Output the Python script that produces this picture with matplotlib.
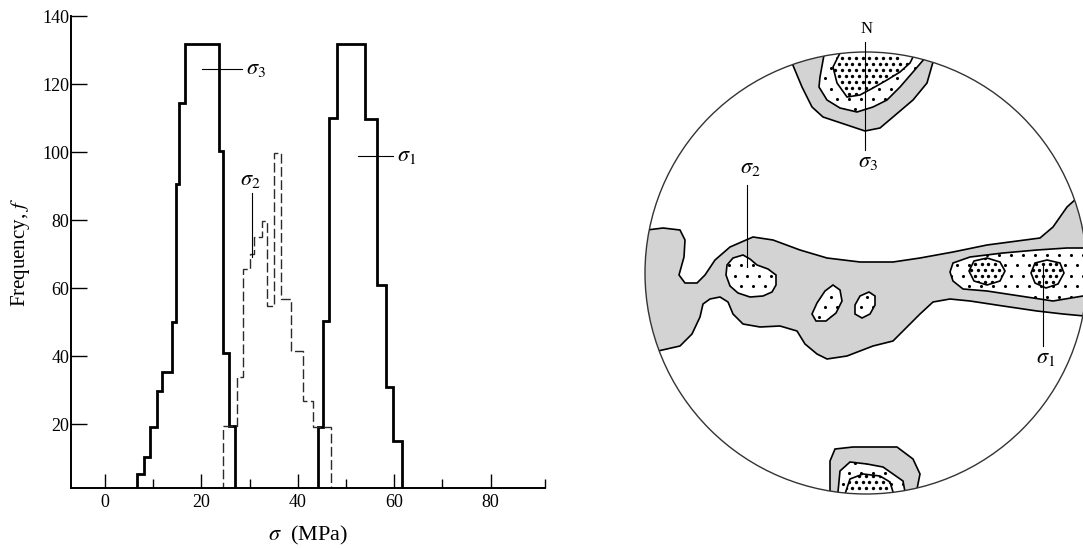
import numpy as np
import matplotlib
matplotlib.use("Agg")
import matplotlib.pyplot as plt
from matplotlib.patches import Polygon, Circle

plt.rcParams['font.family'] = ['Liberation Serif', 'DejaVu Serif']
plt.rcParams['mathtext.fontset'] = 'stix'

# ---------------- histogram data (sigma in MPa, frequency f) ----------------
s3_edges = [6.7, 8.1, 9.3, 10.7, 11.9, 14.0, 14.7, 15.4, 16.6, 23.7, 24.5, 25.7, 27.0]
s3_freq = [5.3, 10.4, 19.2, 29.6, 35.2, 50.1, 90.6, 114.5, 131.8, 100.4, 41.0, 19.5]

s2_edges = [24.5, 27.3, 28.7, 30.1, 31.0, 32.5, 33.7, 35.1, 36.5, 38.6, 41.0, 43.2, 46.9]
s2_freq = [19.4, 33.8, 65.6, 70.0, 75.1, 79.8, 54.7, 99.8, 56.7, 41.6, 26.8, 19.2]

s1_edges = [44.1, 45.3, 46.5, 48.2, 53.9, 56.4, 58.4, 59.8, 61.7]
s1_freq = [19.2, 50.4, 110.0, 131.9, 109.7, 60.8, 30.8, 15.1]

xticks_major = [0, 20, 40, 60, 80]
xticks_minor = [10, 30, 50, 70]
yticks = [20, 40, 60, 80, 100, 120, 140]

# ---------------- stereonet contours (net units, circle radius = NET_R) ----------------
NET_R = 221.0
top_gray = [(-76, 232), (-74, 210), (-64, 186), (-54, 166), (-43, 156), (-19, 148), (-1, 142),
            (14, 145), (27, 156), (47, 173), (61, 190), (67, 211), (70, 232)]
top_dot = [(-42, 235), (-42, 218), (-46, 196), (-47, 186), (-39, 173), (-26, 165), (-9, 161),
           (7, 166), (21, 173), (34, 186), (47, 201), (59, 215), (59, 235)]
top_dense = [(-26, 235), (-26, 220), (-33, 206), (-29, 190), (-19, 176), (-6, 178), (7, 185),
             (21, 193), (34, 201), (44, 210), (47, 216), (47, 235)]
mid_gray = [(-240, 57), (-219, 43), (-203, 45), (-186, 43), (-181, 33), (-182, 16), (-187, -2),
            (-181, -10), (-169, -10), (-161, -2), (-151, 13), (-136, 26), (-113, 36), (-93, 33),
            (-66, 23), (-39, 15), (-6, 11), (27, 11), (54, 15), (87, 21), (121, 28), (174, 35),
            (187, 46), (201, 66), (211, 75), (240, 80), (240, -45), (197, -41), (171, -38),
            (137, -33), (104, -28), (84, -26), (67, -29), (54, -41), (41, -54), (27, -68),
            (7, -73), (-19, -83), (-39, -86), (-49, -81), (-61, -71), (-69, -58), (-86, -53),
            (-106, -54), (-123, -51), (-133, -41), (-138, -29), (-146, -24), (-156, -26),
            (-163, -31), (-166, -44), (-174, -61), (-186, -73), (-208, -78), (-240, -80)]
sig2_dot = [(-139, 8), (-133, 15), (-123, 18), (-116, 14), (-109, 8), (-98, 4), (-90, -2),
            (-90, -12), (-94, -19), (-103, -23), (-116, -24), (-128, -20), (-136, -13), (-140, -2)]
blob_a = [(-33, -12), (-26, -17), (-24, -28), (-30, -40), (-40, -48), (-50, -48), (-54, -41),
          (-49, -30), (-41, -18)]
blob_b = [(3, -19), (9, -23), (9, -32), (4, -41), (-4, -45), (-11, -41), (-11, -32), (-6, -23)]
right_dot = [(84, 1), (87, 10), (104, 16), (137, 20), (171, 23), (201, 25), (240, 25), (240, -23),
             (217, -23), (187, -28), (154, -23), (121, -18), (97, -16), (87, -8)]
right_dense_a = [(103, 2), (108, 12), (121, 15), (134, 11), (139, 2), (134, -8), (121, -12), (108, -8)]
right_dense_b = [(165, 0), (169, 10), (181, 13), (194, 10), (198, 0), (192, -11), (180, -15), (169, -10)]
bot_gray = [(-36, -240), (-36, -188), (-31, -176), (-13, -174), (14, -174), (31, -174),
            (47, -186), (54, -201), (51, -216), (51, -240)]
bot_dot = [(-28, -240), (-28, -219), (-26, -198), (-16, -189), (1, -191), (17, -194),
           (27, -201), (37, -208), (39, -219), (39, -240)]
bot_dense = [(-21, -240), (-21, -221), (-16, -206), (-3, -201), (14, -203), (24, -209),
             (27, -219), (27, -240)]

# ---------------- figure ----------------
W, H = 1083, 548
fig = plt.figure(figsize=(W / 100, H / 100), dpi=100)
fig.patch.set_facecolor('white')

ax = fig.add_axes([71 / W, 60 / H, 474 / W, 472 / H])
ax.stairs(s3_freq, s3_edges, color='black', lw=2.0)
ax.stairs(s1_freq, s1_edges, color='black', lw=2.0)
ax.stairs(s2_freq, s2_edges, color='#2a2a2a', lw=1.0, linestyle=(0, (7, 2.5)))
ax.set_xlim(-7.05, 91.3)
ax.set_ylim(1.2, 140)
ax.set_xticks(xticks_major)
ax.set_xticks(xticks_minor + [91.2], minor=True)
ax.set_yticks(yticks)
ax.tick_params(axis='x', which='major', direction='in', length=10, width=1.0, labelsize=13, pad=4)
ax.tick_params(axis='x', which='minor', direction='in', length=6.5, width=1.0)
ax.tick_params(axis='y', direction='in', length=11.5, width=1.0, labelsize=13, pad=1)
for s in ['top', 'right']:
    ax.spines[s].set_visible(False)
for s in ['left', 'bottom']:
    ax.spines[s].set_linewidth(1.4)
ax.set_xlabel(r'$\sigma$  (MPa)', fontsize=16)
ax.xaxis.set_label_coords(0.5, -0.1)
ax.xaxis.label.set_va('center')
ax.set_ylabel(r'Frequency, $f$', fontsize=15)
ax.yaxis.set_label_coords(-0.082, 0.5)

ax.plot([20.1, 28.4], [124.4, 124.4], color='black', lw=0.8)
ax.text(29.3, 124.2, r'$\sigma_3$', fontsize=16, va='center', ha='left')
ax.plot([52.6, 59.8], [98.9, 98.9], color='black', lw=0.8)
ax.text(60.6, 98.7, r'$\sigma_1$', fontsize=16, va='center', ha='left')
ax.plot([30.6, 30.6], [88, 69], color='black', lw=0.8)
ax.text(30.2, 91.5, r'$\sigma_2$', fontsize=16, va='center', ha='center')

# ---------------- stereonet ----------------
cx, cy = 866, 273
ax2 = fig.add_axes([620 / W, 0, 463 / W, 1])
ax2.set_xlim((620 - cx) / NET_R, (W - cx) / NET_R)
ax2.set_ylim((cy - H) / NET_R, cy / NET_R)
ax2.set_aspect('auto')
ax2.axis('off')

circ_clip = Circle((0, 0), 1.0, transform=ax2.transData)


def norm(pts):
    return [(x / NET_R, y / NET_R) for x, y in pts]


def dot_grid(spacing):
    pts = []
    ys = np.arange(-NET_R, NET_R, spacing * 0.866)
    for i, y in enumerate(ys):
        off = spacing / 2 if i % 2 else 0.0
        for x in np.arange(-NET_R + off, NET_R, spacing):
            if x * x + y * y < (NET_R - 3) ** 2:
                pts.append((x, y))
    pts = np.array(pts) / NET_R
    return pts[:, 0], pts[:, 1]


sparse_x, sparse_y = dot_grid(12.0)
dense_x, dense_y = dot_grid(6.8)


def region(pts, face, z, dots=None, s=4.0):
    p = Polygon(norm(pts), closed=True, fc=face, ec='black', lw=1.2, zorder=z)
    ax2.add_patch(p)
    p.set_clip_path(circ_clip)
    if dots is not None:
        sc = ax2.scatter(dots[0], dots[1], s=s, c='black', lw=0, zorder=z + 0.1)
        sc.set_clip_path(p)


gray = '#d3d3d3'
region(mid_gray, gray, 1)
region(top_gray, gray, 1)
region(bot_gray, gray, 1)
for shp in [top_dot, sig2_dot, blob_a, blob_b, right_dot, bot_dot]:
    region(shp, 'white', 2, (sparse_x, sparse_y), 5.0)
for shp in [top_dense, right_dense_a, right_dense_b, bot_dense]:
    region(shp, 'white', 3, (dense_x, dense_y), 6.0)

ax2.add_patch(Circle((0, 0), 1.0, fc='none', ec='#333333', lw=1.0, zorder=5))

# labels and pointers
ax2.plot([-1 / NET_R, -1 / NET_R], [231 / NET_R, 123 / NET_R], color='black', lw=0.8, zorder=6)
ax2.text(1 / NET_R, 244 / NET_R, 'N', fontsize=12, ha='center', va='center', zorder=6)
ax2.text(2 / NET_R, 110 / NET_R, r'$\sigma_3$', fontsize=16, ha='center', va='center', zorder=6)
ax2.plot([-119 / NET_R, -119 / NET_R], [88 / NET_R, 6 / NET_R], color='black', lw=0.8, zorder=6)
ax2.text(-116 / NET_R, 105 / NET_R, r'$\sigma_2$', fontsize=16, ha='center', va='center', zorder=6)
ax2.plot([177 / NET_R, 177 / NET_R], [8 / NET_R, -73 / NET_R], color='black', lw=0.8, zorder=6)
ax2.text(180 / NET_R, -86 / NET_R, r'$\sigma_1$', fontsize=16, ha='center', va='center', zorder=6)

fig.savefig('out.png', dpi=100, facecolor='white')
